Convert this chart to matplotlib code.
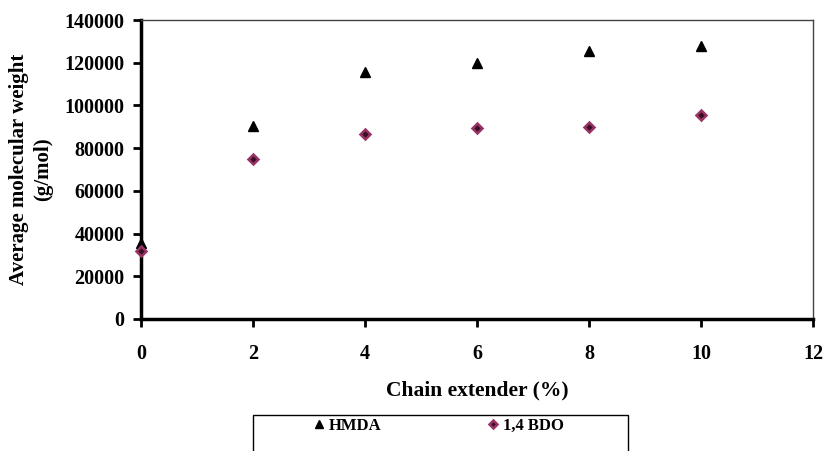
import matplotlib.pyplot as plt
from matplotlib.patches import Rectangle

# Chain extender content (%)
extender = [0, 2, 4, 6, 8, 10]
# Average molecular weight (g/mol)
hmda = [35500, 90300, 115800, 120000, 125500, 128000]
bdo = [32000, 74800, 86500, 89500, 90000, 95600]

x_ticks = [0, 2, 4, 6, 8, 10, 12]
y_ticks = [0, 20000, 40000, 60000, 80000, 100000, 120000, 140000]

plt.rcParams['font.family'] = ['Liberation Serif', 'DejaVu Serif']
plt.rcParams['font.weight'] = 'bold'

fig = plt.figure(figsize=(8.29, 4.51), dpi=100)
ax = fig.add_axes([141 / 829, 1 - 319 / 451, (813 - 141) / 829, (319 - 20) / 451])

ax.plot(extender, hmda, linestyle='none', marker='^', markersize=7.5,
        color='black', label='HMDA', clip_on=False, zorder=3)
ax.plot(extender, bdo, linestyle='none', marker='D', markersize=5,
        markerfacecolor='#3a0f25', markeredgecolor='#993366', markeredgewidth=1.8,
        label='1,4 BDO', clip_on=False, zorder=3)

ax.set_xlim(0, 12)
ax.set_ylim(0, 140000)
ax.set_xticks(x_ticks)
ax.set_yticks(y_ticks)
ax.tick_params(direction='out', length=6, width=2, labelsize=14.5, pad=12)
ax.tick_params(axis='y', pad=6)

for side in ['left', 'bottom']:
    ax.spines[side].set_linewidth(2.5)
for side in ['top', 'right']:
    ax.spines[side].set_linewidth(1)
    ax.spines[side].set_color('#444444')

ax.set_xlabel('Chain extender (%)', fontsize=15.5, fontweight='bold', labelpad=12)
ax.set_ylabel('Average molecular weight\n(g/mol)', fontsize=15, fontweight='bold',
              labelpad=8, linespacing=1.25)

# Legend box below the plot
fig.patches.append(Rectangle((253 / 829, -0.05), (628 - 253) / 829, 0.05 + 36 / 451,
                             transform=fig.transFigure, fill=False,
                             edgecolor='black', linewidth=1))
fig.legend(loc='center', bbox_to_anchor=(437 / 829, 25 / 451), ncol=2, frameon=False,
           fontsize=12, columnspacing=6.2, handletextpad=0.1, handlelength=1,
           markerscale=0.8)

fig.savefig('out.png', dpi=100)
